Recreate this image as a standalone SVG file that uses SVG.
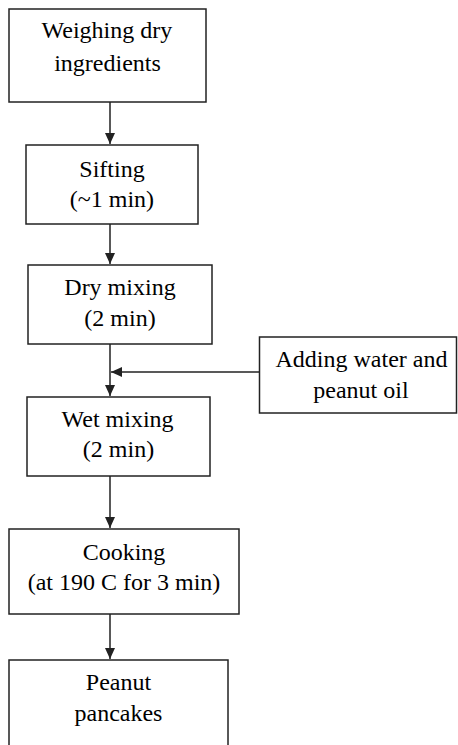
<svg xmlns="http://www.w3.org/2000/svg" width="458" height="745" viewBox="0 0 458 745">
<defs>
<marker id="ah" markerUnits="userSpaceOnUse" markerWidth="12" markerHeight="12" refX="11" refY="6" orient="auto">
<path d="M0,1 L11,6 L0,11 Z" fill="#222"/>
</marker>
</defs>
<rect width="458" height="745" fill="#fff"/>
<g id="connectors" stroke="#222" stroke-width="1.5" fill="none">
<line x1="110" y1="102" x2="110" y2="144" marker-end="url(#ah)"/>
<line x1="110" y1="224" x2="110" y2="264" marker-end="url(#ah)"/>
<line x1="110" y1="344" x2="110" y2="396" marker-end="url(#ah)"/>
<line x1="259" y1="372" x2="111" y2="372" marker-end="url(#ah)"/>
<line x1="110" y1="476" x2="110" y2="528" marker-end="url(#ah)"/>
<line x1="110" y1="614" x2="110" y2="659" marker-end="url(#ah)"/>
</g>
<g id="weighing">
<rect x="9" y="9" width="197" height="93" fill="#fff" stroke="#222" stroke-width="1.5"/>
<g>
<text x="41.5" y="38" font-family="Liberation Serif" font-size="24">Weighing dry</text>
<text x="54.2" y="71" font-family="Liberation Serif" font-size="24">ingredients</text>
</g>
</g>
<g id="sifting">
<rect x="26" y="145" width="172" height="79" fill="#fff" stroke="#222" stroke-width="1.5"/>
<g>
<text x="79.3" y="177" font-family="Liberation Serif" font-size="24">Sifting</text>
<text x="69.8" y="207" font-family="Liberation Serif" font-size="24">(~1 min)</text>
</g>
</g>
<g id="dry">
<rect x="28" y="265" width="184" height="79" fill="#fff" stroke="#222" stroke-width="1.5"/>
<g>
<text x="64.3" y="295" font-family="Liberation Serif" font-size="24">Dry mixing</text>
<text x="84.3" y="326" font-family="Liberation Serif" font-size="24">(2 min)</text>
</g>
</g>
<g id="adding">
<rect x="259.5" y="337" width="197" height="76" fill="#fff" stroke="#222" stroke-width="1.5"/>
<g>
<text x="275.5" y="367" font-family="Liberation Serif" font-size="24">Adding water and</text>
<text x="313.3" y="398" font-family="Liberation Serif" font-size="24">peanut oil</text>
</g>
</g>
<g id="wet">
<rect x="27" y="397" width="183" height="79" fill="#fff" stroke="#222" stroke-width="1.5"/>
<g>
<text x="61.5" y="427" font-family="Liberation Serif" font-size="24">Wet mixing</text>
<text x="82.8" y="457" font-family="Liberation Serif" font-size="24">(2 min)</text>
</g>
</g>
<g id="cooking">
<rect x="9" y="529" width="230" height="85" fill="#fff" stroke="#222" stroke-width="1.5"/>
<g>
<text x="82.7" y="560" font-family="Liberation Serif" font-size="24">Cooking</text>
<text x="27.7" y="590" font-family="Liberation Serif" font-size="24">(at 190 C for 3 min)</text>
</g>
</g>
<g id="pancakes">
<rect x="9" y="660" width="219" height="100" fill="#fff" stroke="#222" stroke-width="1.5"/>
<g>
<text x="85.8" y="690" font-family="Liberation Serif" font-size="24">Peanut</text>
<text x="74.5" y="721" font-family="Liberation Serif" font-size="24">pancakes</text>
</g>
</g>
</svg>
